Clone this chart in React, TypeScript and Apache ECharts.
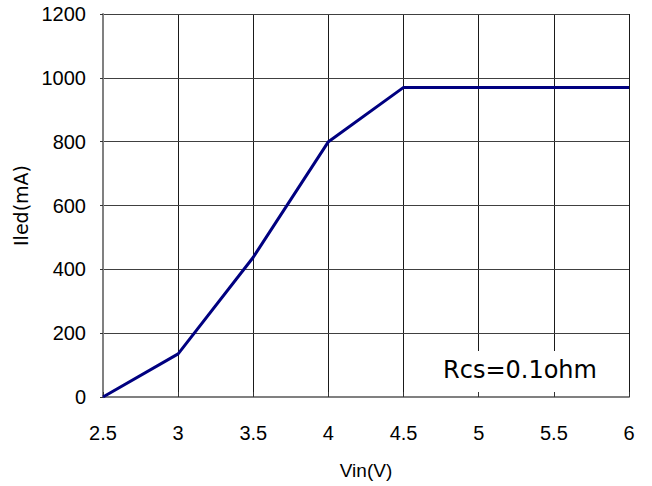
import React, { useEffect, useRef } from "react";
import * as echarts from "echarts";

const vin = [2.5, 3, 3.5, 4, 4.5, 5, 5.5, 6];
const iled = [0, 135, 438, 800, 970, 970, 970, 970];
const xTicks = [2.5, 3, 3.5, 4, 4.5, 5, 5.5, 6];
const yTicks = [0, 200, 400, 600, 800, 1000, 1200];
const noteText = "Rcs=0.1ohm";
const xName = "Vin(V)";
const yName = "Iled(mA)";

export default function App() {
  const ref = useRef<HTMLDivElement>(null);
  useEffect(() => {
    document.body.style.margin = "0";
    const chart = echarts.init(ref.current!, null, { renderer: "svg" });
    const font = "'Liberation Sans', Arial, sans-serif";
    chart.setOption({
      animation: false,
      backgroundColor: "#ffffff",
      grid: { left: 103, right: 23, top: 14, bottom: 89, outerBoundsMode: "none", containLabel: false },
      xAxis: [
        {
          type: "value",
          min: xTicks[0],
          max: xTicks[xTicks.length - 1],
          interval: 0.5,
          name: xName,
          nameLocation: "middle",
          nameGap: 64,
          nameTextStyle: { fontFamily: font, fontSize: 19, color: "#000" },
          axisLine: { show: false },
          axisTick: { show: false },
          axisLabel: { fontFamily: font, fontSize: 20, color: "#000", margin: 26, formatter: (v: number) => String(v) },
          splitLine: { show: true, lineStyle: { color: "#1a1a1a", width: 1 } },
          z: 0,
        },
        {
          type: "value",
          min: xTicks[0],
          max: xTicks[xTicks.length - 1],
          interval: 0.5,
          position: "bottom",
          axisLine: { show: true, onZero: false, lineStyle: { color: "#808080", width: 2 } },
          axisTick: { show: true, inside: true, length: 5, lineStyle: { color: "#333", width: 1 } },
          axisLabel: { show: false },
          splitLine: { show: false },
          z: 5,
        },
      ],
      yAxis: {
        type: "value",
        min: yTicks[0],
        max: yTicks[yTicks.length - 1],
        interval: 200,
        name: yName,
        nameLocation: "middle",
        nameGap: 65,
        nameTextStyle: { fontFamily: "'DejaVu Sans', sans-serif", fontSize: 19, color: "#000" },
        axisLine: { show: true, lineStyle: { color: "#808080", width: 2 } },
        axisTick: { show: true, length: 3, lineStyle: { color: "#333" } },
        axisLabel: { fontFamily: font, fontSize: 20, color: "#000", margin: 17, formatter: (v: number) => String(v) },
        splitLine: { show: true, lineStyle: { color: "#404040", width: 1 } },
        z: 5,
      },
      graphic: [
        {
          type: "rect",
          z: 1,
          shape: { x: 404, y: 351, width: 224, height: 45 },
          style: { fill: "#ffffff" },
        },
        {
          type: "text",
          z: 2,
          x: 520,
          y: 370,
          style: {
            text: noteText,
            fontFamily: "'DejaVu Sans', sans-serif",
            fontSize: 24,
            fill: "#000",
            align: "center",
            verticalAlign: "middle",
          },
        },
      ],
      series: [
        {
          type: "line",
          data: vin.map((v, i) => [v, iled[i]]),
          showSymbol: false,
          symbol: "none",
          lineStyle: { color: "#000080", width: 3 },
          z: 10,
        },
      ],
    });
    return () => chart.dispose();
  }, []);
  return <div ref={ref} style={{ width: 652, height: 486 }} />;
}
